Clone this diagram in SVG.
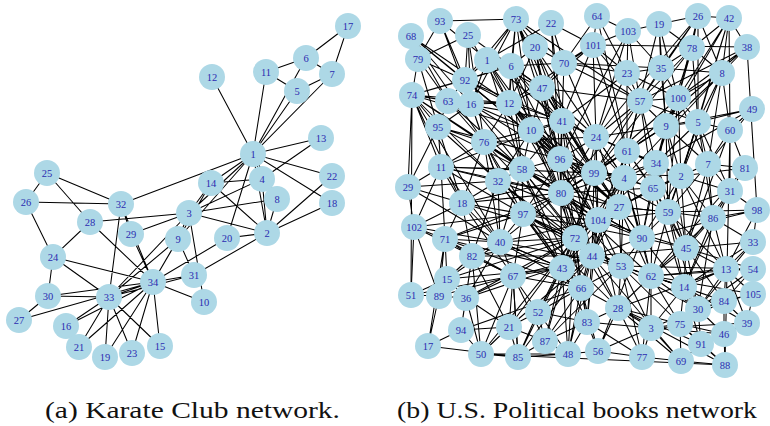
<svg xmlns="http://www.w3.org/2000/svg" width="770" height="426" viewBox="0 0 770 426">
<style>
.e path{fill:none;stroke:#000;stroke-width:1.05}
.n circle{fill:#add8e6}
.n text{font-family:"Liberation Serif",serif;font-size:10.5px;fill:#2b2bb0;text-anchor:middle}
.cap{font-family:"Liberation Serif",serif;font-size:23px;fill:#111}
</style>
<rect width="770" height="426" fill="#fff"/>
<g id="karate-edges" class="e">
<path d="M253 154L267 233M253 154L189 213M253 154L262 179M253 154L297 91M253 154L306 58M253 154L332 74M253 154L277 199M253 154L178 239M253 154L266 72M253 154L212 77M253 154L321 138M253 154L211 183M253 154L332 203M253 154L227 238M253 154L332 176M253 154L121 204M267 233L189 213M267 233L262 179M267 233L277 199M267 233L211 183M267 233L332 203M267 233L227 238M267 233L332 176M267 233L194 275M189 213L262 179M189 213L277 199M189 213L178 239M189 213L204 302M189 213L211 183M189 213L90 222M189 213L131 234M189 213L109 297M262 179L277 199M262 179L321 138M262 179L211 183M297 91L332 74M297 91L266 72M306 58L332 74M306 58L266 72M306 58L348 26M332 74L348 26M178 239L194 275M178 239L109 297M178 239L153 282M204 302L153 282M211 183L153 282M160 346L109 297M160 346L153 282M66 326L109 297M66 326L153 282M105 357L109 297M105 357L153 282M227 238L153 282M79 347L109 297M79 347L153 282M132 353L109 297M132 353L153 282M53 257L26 202M53 257L90 222M53 257L48 296M53 257L109 297M53 257L153 282M47 173L26 202M47 173L90 222M47 173L121 204M26 202L121 204M19 320L48 296M19 320L153 282M90 222L153 282M131 234L121 204M131 234L153 282M48 296L109 297M48 296L153 282M194 275L109 297M194 275L153 282M121 204L109 297M121 204L153 282M109 297L153 282"/>
</g>
<g id="books-edges" class="e">
<path d="M412 95L448 101M412 95L471 104M412 95L484 142M412 95L509 103M412 95L531 130M412 95L498 181M412 95L438 127M412 95L441 167M412 95L408 187M412 95L411 295M412 95L462 203M412 95L522 169M412 95L465 80M412 95L511 66M412 95L561 193"/>
<path d="M516 19L440 21M516 19L487 60M516 19L511 66M516 19L509 103M516 19L542 88M516 19L562 121M516 19L531 130M516 19L535 47M516 19L564 63M516 19L560 159M516 19L640 101M516 19L465 80M516 19L471 104M516 19L596 137M516 19L624 178"/>
<path d="M411 36L465 80M411 36L471 104M411 36L509 103M411 36L448 101M411 36L484 142M411 36L418 59M411 36L560 159M418 59L412 95M418 59L468 35M418 59L465 80M418 59L448 101M418 59L438 127M440 21L465 80M440 21L418 59M440 21L471 104M440 21L562 121M468 35L465 80M468 35L484 142M468 35L509 103M468 35L471 104M468 35L542 88"/>
<path d="M551 23L487 60M551 23L564 63M551 23L593 45M551 23L562 121M551 23L560 159M597 16L593 45M597 16L628 31M597 16L564 63M597 16L627 73M597 16L627 151M628 31L659 24M628 31L593 45M628 31L627 73M628 31L640 101M628 31L661 68M628 31L596 137M628 31L560 159M659 24L698 16M659 24L692 48M659 24L661 68M659 24L678 98M659 24L666 126M659 24L627 151"/>
<path d="M698 16L729 18M698 16L692 48M698 16L661 68M698 16L722 73M698 16L640 101M698 16L678 98M698 16L698 122M698 16L596 137M729 18L692 48M729 18L722 73M729 18L747 47M729 18L678 98M729 18L698 122M729 18L666 126M729 18L730 130M729 18L681 176M747 47L722 73M747 47L593 45M747 47L757 210M747 47L678 98M747 47L640 101M747 47L627 151"/>
<path d="M593 45L564 63M593 45L627 73M593 45L640 101M593 45L596 137M593 45L562 121M593 45L542 88M593 45L509 103M593 45L627 151M535 47L511 66M535 47L564 63M535 47L509 103M535 47L542 88M535 47L562 121M535 47L560 159M487 60L511 66M487 60L465 80M487 60L509 103M487 60L471 104M487 60L542 88M487 60L531 130M511 66L509 103M511 66L542 88M511 66L562 121M511 66L531 130M511 66L564 63M511 66L560 159M511 66L522 169"/>
<path d="M564 63L542 88M564 63L562 121M564 63L627 73M564 63L640 101M564 63L596 137M564 63L661 68M627 73L661 68M627 73L640 101M627 73L596 137M627 73L627 151M627 73L562 121M627 73L678 98M661 68L692 48M661 68L678 98M661 68L640 101M661 68L666 126M661 68L722 73M692 48L722 73M692 48L678 98M692 48L698 122M692 48L666 126M692 48L640 101M692 48L594 173M722 73L678 98M722 73L698 122M722 73L730 130M722 73L666 126M722 73L708 164M722 73L681 176M722 73L624 178"/>
<path d="M752 109L730 130M752 109L698 122M752 109L708 164M752 109L666 126M752 109L656 163M730 130L698 122M730 130L745 168M730 130L708 164M730 130L725 365M730 130L730 191M730 130L686 248M745 168L730 191M745 168L708 164M745 168L713 218M745 168L681 176M745 168L651 276M730 191L713 218M730 191L681 176M730 191L708 164M730 191L668 212M730 191L686 248M730 191L757 210M730 191L684 287"/>
<path d="M757 210L713 218M757 210L753 242M757 210L726 269M757 210L668 212M757 210L642 238M753 242L713 218M753 242L726 269M753 242L686 248M753 242L684 287M753 242L698 309M753 269L726 269M753 269L724 301M753 269L686 248M753 269L651 276M753 269L698 309M753 269L621 266M753 294L724 301M753 294L726 269M753 294L747 323M753 294L698 309M753 294L651 276M747 323L724 301M747 323L724 334M747 323L726 269M747 323L684 287M747 323L651 328"/>
<path d="M724 301L726 269M724 301L698 309M724 301L724 334M724 301L684 287M724 301L651 276M724 301L680 324M724 334L698 309M724 334L701 344M724 334L680 324M724 334L725 365M724 334L651 328M725 365L701 344M725 365L681 361M725 365L680 324M725 365L618 308M701 344L698 309M701 344L680 324M701 344L681 361M701 344L684 287M701 344L618 308M681 361L680 324M681 361L642 357M681 361L651 328M681 361L618 308M681 361L592 256"/>
<path d="M642 357L651 328M642 357L598 351M642 357L618 308M642 357L587 322M642 357L621 266M642 357L651 276M598 351L587 322M598 351L568 354M598 351L618 308M598 351L651 328M598 351L581 288M598 351L642 238M568 354L587 322M568 354L545 341M568 354L518 357M568 354L481 354M568 354L538 312M568 354L562 268M568 354L592 256M568 354L581 288"/>
<path d="M518 357L545 341M518 357L509 327M518 357L481 354M518 357L538 312M518 357L513 276M518 357L562 268M545 341L538 312M545 341L509 327M545 341L562 268M545 341L587 322M545 341L581 288M545 341L621 266M481 354L461 330M481 354L509 327M481 354L466 298M481 354L513 276M481 354L575 238M481 354L472 256M481 354L725 365"/>
<path d="M428 346L439 296M428 346L461 330M428 346L445 239M428 346L518 357M411 295L414 227M411 295L439 296M411 295L447 279M411 295L513 276M461 330L466 298M461 330L509 327M461 330L472 256M461 330L581 288M439 296L447 279M439 296L466 298M439 296L445 239M439 296L414 227M439 296L513 276M447 279L466 298M447 279L445 239M447 279L472 256M447 279L500 242M447 279L575 238M466 298L472 256M466 298L513 276M466 298L509 327M466 298L500 242M466 298L592 256"/>
<path d="M414 227L445 239M414 227L408 187M414 227L462 203M414 227L441 167M414 227L513 276M414 227L500 242M408 187L441 167M408 187L438 127M408 187L462 203M408 187L500 242M445 239L472 256M445 239L462 203M445 239L500 242M445 239L441 167M445 239L523 214M445 239L581 288M441 167L438 127M441 167L484 142M441 167L498 181M441 167L462 203M441 167L522 169M441 167L594 173M441 167L562 121"/>
<path d="M438 127L448 101M438 127L484 142M438 127L471 104M438 127L462 203M438 127L560 159M448 101L471 104M448 101L465 80M448 101L484 142M448 101L509 103M448 101L562 121M465 80L471 104M465 80L509 103M465 80L511 66M465 80L596 137M471 104L509 103M471 104L484 142M471 104L531 130M471 104L498 181M471 104L561 193M462 203L498 181M462 203L500 242M462 203L472 256M462 203L523 214M462 203L484 142M462 203L561 193"/>
<path d="M509 103L542 88M509 103L562 121M509 103L531 130M509 103L484 142M509 103L522 169M509 103L560 159M509 103L594 173M542 88L562 121M542 88L531 130M542 88L596 137M542 88L640 101M542 88L560 159M542 88L624 178M562 121L531 130M562 121L560 159M562 121L596 137M562 121L627 151M562 121L594 173M562 121L522 169M562 121L561 193M562 121L619 207M531 130L484 142M531 130L560 159M531 130L522 169M531 130L498 181M531 130L561 193M531 130L594 173M531 130L598 220"/>
<path d="M484 142L522 169M484 142L498 181M484 142L523 214M484 142L500 242M484 142L596 137M560 159L522 169M560 159L561 193M560 159L594 173M560 159L596 137M560 159L624 178M560 159L523 214M560 159L575 238M560 159L653 188M522 169L498 181M522 169L561 193M522 169L523 214M522 169L500 242M522 169L575 238M498 181L523 214M498 181L500 242M498 181L561 193M498 181L472 256M498 181L562 268"/>
<path d="M596 137L627 151M596 137L594 173M596 137L624 178M596 137L640 101M596 137L666 126M596 137L656 163M596 137L681 176M640 101L678 98M640 101L666 126M640 101L627 151M640 101L656 163M640 101L698 122M640 101L653 188M678 98L666 126M678 98L698 122M678 98L708 164M678 98L681 176M678 98L656 163M678 98L668 212M666 126L698 122M666 126L656 163M666 126L627 151M666 126L681 176M666 126L708 164M666 126L653 188M666 126L686 248"/>
<path d="M698 122L708 164M698 122L681 176M698 122L656 163M698 122L713 218M698 122L730 191M708 164L681 176M708 164L713 218M708 164L668 212M708 164L653 188M708 164L686 248M681 176L656 163M681 176L653 188M681 176L668 212M681 176L713 218M681 176L686 248M681 176L726 269M656 163L627 151M656 163L624 178M656 163L653 188M656 163L668 212M656 163L642 238"/>
<path d="M627 151L624 178M627 151L594 173M627 151L653 188M627 151L619 207M627 151L668 212M594 173L624 178M594 173L561 193M594 173L619 207M594 173L598 220M594 173L668 212M624 178L619 207M624 178L653 188M624 178L598 220M624 178L642 238M624 178L651 276M653 188L668 212M653 188L619 207M653 188L642 238M653 188L686 248M653 188L684 287"/>
<path d="M561 193L523 214M561 193L598 220M561 193L575 238M561 193L619 207M561 193L500 242M561 193L642 238M523 214L500 242M523 214L575 238M523 214L513 276M523 214L562 268M523 214L621 266M500 242L472 256M500 242L513 276M500 242L562 268M500 242L575 238M500 242L581 288M619 207L598 220M619 207L642 238M619 207L668 212M619 207L592 256M619 207L651 276M598 220L575 238M598 220L592 256M598 220L642 238M598 220L621 266M598 220L618 308"/>
<path d="M668 212L642 238M668 212L686 248M668 212L713 218M668 212L651 276M668 212L684 287M713 218L686 248M713 218L726 269M713 218L684 287M642 238L686 248M642 238L621 266M642 238L651 276M642 238L592 256M642 238L698 309M686 248L651 276M686 248L684 287M686 248L726 269M686 248L724 301"/>
<path d="M575 238L592 256M575 238L562 268M575 238L581 288M575 238L621 266M575 238L618 308M592 256L621 266M592 256L562 268M592 256L581 288M592 256L651 276M592 256L587 322M621 266L651 276M621 266L581 288M621 266L618 308M621 266L651 328M621 266L680 324M651 276L684 287M651 276L618 308M651 276L651 328M651 276L680 324M651 276L698 309"/>
<path d="M562 268L581 288M562 268L513 276M562 268L538 312M562 268L587 322M513 276L472 256M513 276L538 312M513 276L509 327M513 276L545 341M513 276L518 357M472 256L509 327M581 288L618 308M581 288L587 322M581 288L538 312M618 308L587 322M618 308L651 328M618 308L680 324M684 287L698 309M684 287L680 324M684 287L651 328M698 309L680 324M698 309L651 328M726 269L684 287M726 269L698 309M726 269L618 308M651 328L680 324M651 328L587 322M538 312L587 322M538 312L509 327"/>
<path d="M509 103L561 193M509 103L619 207M509 103L598 220M531 130L619 207M531 130L575 238M562 121L598 220M562 121L575 238M562 121L592 256M560 159L598 220M560 159L619 207M560 159L592 256M560 159L562 268M522 169L598 220M522 169L592 256M522 169L562 268M522 169L619 207M484 142L561 193M484 142L575 238M484 142L562 268M498 181L575 238M498 181L592 256M498 181L598 220M523 214L592 256M523 214L598 220M523 214L642 238M561 193L592 256M561 193L562 268M561 193L621 266M561 193L581 288M594 173L575 238M594 173L592 256M594 173L562 268M594 173L642 238M596 137L561 193M596 137L598 220M596 137L619 207M596 137L575 238"/>
<path d="M627 151L561 193M627 151L598 220M627 151L642 238M627 151L592 256M624 178L592 256M624 178L575 238M624 178L621 266M619 207L575 238M619 207L562 268M619 207L621 266M598 220L562 268M598 220L581 288M575 238L513 276M575 238L538 312M592 256L513 276M592 256L538 312M562 268L500 242M500 242L621 266M500 242L598 220M513 276L581 288M522 169L581 288M542 88L561 193M542 88L619 207M542 88L594 173M511 66L561 193M511 66L594 173M535 47L594 173M487 60L560 159M487 60L522 169M465 80L560 159M471 104L522 169M471 104L560 159M448 101L522 169M438 127L522 169"/>
<path d="M441 167L561 193M441 167L523 214M462 203L575 238M462 203L594 173M445 239L561 193M445 239L562 268M472 256L575 238M472 256L592 256M447 279L562 268M466 298L575 238M509 327L575 238M509 327L592 256M545 341L575 238M518 357L592 256M568 354L575 238M587 322L575 238M587 322L598 220M581 288L523 214M618 308L523 214M618 308L561 193M621 266L523 214M651 276L561 193M642 238L561 193M653 188L561 193M653 188L598 220M656 163L598 220M656 163L561 193M666 126L561 193M666 126L594 173M640 101L561 193M640 101L594 173M678 98L594 173M681 176L594 173M681 176L619 207M668 212L598 220M668 212L619 207M686 248L598 220M686 248L592 256M684 287L592 256M698 309L621 266"/>
<path d="M698 122L668 212M666 126L668 212M656 163L686 248M681 176L642 238M653 188L651 276M668 212L726 269M713 218L651 276M686 248L698 309M668 212L698 309M713 218L698 309M726 269L651 276M684 287L621 266M412 95L500 242M408 187L498 181M441 167L500 242M438 127L498 181M414 227L523 214M462 203L513 276M445 239L513 276"/>
</g>
<g id="karate-nodes" class="n">
<g id="k1"><circle cx="253" cy="154" r="13"/><text x="253" y="157.5">1</text></g>
<g id="k2"><circle cx="267" cy="233" r="13"/><text x="267" y="236.5">2</text></g>
<g id="k3"><circle cx="189" cy="213" r="13"/><text x="189" y="216.5">3</text></g>
<g id="k4"><circle cx="262" cy="179" r="13"/><text x="262" y="182.5">4</text></g>
<g id="k5"><circle cx="297" cy="91" r="13"/><text x="297" y="94.5">5</text></g>
<g id="k6"><circle cx="306" cy="58" r="13"/><text x="306" y="61.5">6</text></g>
<g id="k7"><circle cx="332" cy="74" r="13"/><text x="332" y="77.5">7</text></g>
<g id="k8"><circle cx="277" cy="199" r="13"/><text x="277" y="202.5">8</text></g>
<g id="k9"><circle cx="178" cy="239" r="13"/><text x="178" y="242.5">9</text></g>
<g id="k10"><circle cx="204" cy="302" r="13"/><text x="204" y="305.5">10</text></g>
<g id="k11"><circle cx="266" cy="72" r="13"/><text x="266" y="75.5">11</text></g>
<g id="k12"><circle cx="212" cy="77" r="13"/><text x="212" y="80.5">12</text></g>
<g id="k13"><circle cx="321" cy="138" r="13"/><text x="321" y="141.5">13</text></g>
<g id="k14"><circle cx="211" cy="183" r="13"/><text x="211" y="186.5">14</text></g>
<g id="k15"><circle cx="160" cy="346" r="13"/><text x="160" y="349.5">15</text></g>
<g id="k16"><circle cx="66" cy="326" r="13"/><text x="66" y="329.5">16</text></g>
<g id="k17"><circle cx="348" cy="26" r="13"/><text x="348" y="29.5">17</text></g>
<g id="k18"><circle cx="332" cy="203" r="13"/><text x="332" y="206.5">18</text></g>
<g id="k19"><circle cx="105" cy="357" r="13"/><text x="105" y="360.5">19</text></g>
<g id="k20"><circle cx="227" cy="238" r="13"/><text x="227" y="241.5">20</text></g>
<g id="k21"><circle cx="79" cy="347" r="13"/><text x="79" y="350.5">21</text></g>
<g id="k22"><circle cx="332" cy="176" r="13"/><text x="332" y="179.5">22</text></g>
<g id="k23"><circle cx="132" cy="353" r="13"/><text x="132" y="356.5">23</text></g>
<g id="k24"><circle cx="53" cy="257" r="13"/><text x="53" y="260.5">24</text></g>
<g id="k25"><circle cx="47" cy="173" r="13"/><text x="47" y="176.5">25</text></g>
<g id="k26"><circle cx="26" cy="202" r="13"/><text x="26" y="205.5">26</text></g>
<g id="k27"><circle cx="19" cy="320" r="13"/><text x="19" y="323.5">27</text></g>
<g id="k28"><circle cx="90" cy="222" r="13"/><text x="90" y="225.5">28</text></g>
<g id="k29"><circle cx="131" cy="234" r="13"/><text x="131" y="237.5">29</text></g>
<g id="k30"><circle cx="48" cy="296" r="13"/><text x="48" y="299.5">30</text></g>
<g id="k31"><circle cx="194" cy="275" r="13"/><text x="194" y="278.5">31</text></g>
<g id="k32"><circle cx="121" cy="204" r="13"/><text x="121" y="207.5">32</text></g>
<g id="k33"><circle cx="109" cy="297" r="13"/><text x="109" y="300.5">33</text></g>
<g id="k34"><circle cx="153" cy="282" r="13"/><text x="153" y="285.5">34</text></g>
</g>
<g id="books-nodes" class="n">
<g id="p1"><circle cx="487" cy="60" r="13"/><text x="487" y="63.5">1</text></g>
<g id="p2"><circle cx="681" cy="176" r="13"/><text x="681" y="179.5">2</text></g>
<g id="p3"><circle cx="651" cy="328" r="13"/><text x="651" y="331.5">3</text></g>
<g id="p4"><circle cx="624" cy="178" r="13"/><text x="624" y="181.5">4</text></g>
<g id="p5"><circle cx="698" cy="122" r="13"/><text x="698" y="125.5">5</text></g>
<g id="p6"><circle cx="511" cy="66" r="13"/><text x="511" y="69.5">6</text></g>
<g id="p7"><circle cx="708" cy="164" r="13"/><text x="708" y="167.5">7</text></g>
<g id="p8"><circle cx="722" cy="73" r="13"/><text x="722" y="76.5">8</text></g>
<g id="p9"><circle cx="666" cy="126" r="13"/><text x="666" y="129.5">9</text></g>
<g id="p10"><circle cx="531" cy="130" r="13"/><text x="531" y="133.5">10</text></g>
<g id="p11"><circle cx="441" cy="167" r="13"/><text x="441" y="170.5">11</text></g>
<g id="p12"><circle cx="509" cy="103" r="13"/><text x="509" y="106.5">12</text></g>
<g id="p13"><circle cx="726" cy="269" r="13"/><text x="726" y="272.5">13</text></g>
<g id="p14"><circle cx="684" cy="287" r="13"/><text x="684" y="290.5">14</text></g>
<g id="p15"><circle cx="447" cy="279" r="13"/><text x="447" y="282.5">15</text></g>
<g id="p16"><circle cx="471" cy="104" r="13"/><text x="471" y="107.5">16</text></g>
<g id="p17"><circle cx="428" cy="346" r="13"/><text x="428" y="349.5">17</text></g>
<g id="p18"><circle cx="462" cy="203" r="13"/><text x="462" y="206.5">18</text></g>
<g id="p19"><circle cx="659" cy="24" r="13"/><text x="659" y="27.5">19</text></g>
<g id="p20"><circle cx="535" cy="47" r="13"/><text x="535" y="50.5">20</text></g>
<g id="p21"><circle cx="509" cy="327" r="13"/><text x="509" y="330.5">21</text></g>
<g id="p22"><circle cx="551" cy="23" r="13"/><text x="551" y="26.5">22</text></g>
<g id="p23"><circle cx="627" cy="73" r="13"/><text x="627" y="76.5">23</text></g>
<g id="p24"><circle cx="596" cy="137" r="13"/><text x="596" y="140.5">24</text></g>
<g id="p25"><circle cx="468" cy="35" r="13"/><text x="468" y="38.5">25</text></g>
<g id="p26"><circle cx="698" cy="16" r="13"/><text x="698" y="19.5">26</text></g>
<g id="p27"><circle cx="619" cy="207" r="13"/><text x="619" y="210.5">27</text></g>
<g id="p28"><circle cx="618" cy="308" r="13"/><text x="618" y="311.5">28</text></g>
<g id="p29"><circle cx="408" cy="187" r="13"/><text x="408" y="190.5">29</text></g>
<g id="p30"><circle cx="698" cy="309" r="13"/><text x="698" y="312.5">30</text></g>
<g id="p31"><circle cx="730" cy="191" r="13"/><text x="730" y="194.5">31</text></g>
<g id="p32"><circle cx="498" cy="181" r="13"/><text x="498" y="184.5">32</text></g>
<g id="p33"><circle cx="753" cy="242" r="13"/><text x="753" y="245.5">33</text></g>
<g id="p34"><circle cx="656" cy="163" r="13"/><text x="656" y="166.5">34</text></g>
<g id="p35"><circle cx="661" cy="68" r="13"/><text x="661" y="71.5">35</text></g>
<g id="p36"><circle cx="466" cy="298" r="13"/><text x="466" y="301.5">36</text></g>
<g id="p38"><circle cx="747" cy="47" r="13"/><text x="747" y="50.5">38</text></g>
<g id="p39"><circle cx="747" cy="323" r="13"/><text x="747" y="326.5">39</text></g>
<g id="p40"><circle cx="500" cy="242" r="13"/><text x="500" y="245.5">40</text></g>
<g id="p41"><circle cx="562" cy="121" r="13"/><text x="562" y="124.5">41</text></g>
<g id="p42"><circle cx="729" cy="18" r="13"/><text x="729" y="21.5">42</text></g>
<g id="p43"><circle cx="562" cy="268" r="13"/><text x="562" y="271.5">43</text></g>
<g id="p44"><circle cx="592" cy="256" r="13"/><text x="592" y="259.5">44</text></g>
<g id="p45"><circle cx="686" cy="248" r="13"/><text x="686" y="251.5">45</text></g>
<g id="p46"><circle cx="724" cy="334" r="13"/><text x="724" y="337.5">46</text></g>
<g id="p47"><circle cx="542" cy="88" r="13"/><text x="542" y="91.5">47</text></g>
<g id="p48"><circle cx="568" cy="354" r="13"/><text x="568" y="357.5">48</text></g>
<g id="p49"><circle cx="752" cy="109" r="13"/><text x="752" y="112.5">49</text></g>
<g id="p50"><circle cx="481" cy="354" r="13"/><text x="481" y="357.5">50</text></g>
<g id="p51"><circle cx="411" cy="295" r="13"/><text x="411" y="298.5">51</text></g>
<g id="p52"><circle cx="538" cy="312" r="13"/><text x="538" y="315.5">52</text></g>
<g id="p53"><circle cx="621" cy="266" r="13"/><text x="621" y="269.5">53</text></g>
<g id="p54"><circle cx="753" cy="269" r="13"/><text x="753" y="272.5">54</text></g>
<g id="p56"><circle cx="598" cy="351" r="13"/><text x="598" y="354.5">56</text></g>
<g id="p57"><circle cx="640" cy="101" r="13"/><text x="640" y="104.5">57</text></g>
<g id="p58"><circle cx="522" cy="169" r="13"/><text x="522" y="172.5">58</text></g>
<g id="p59"><circle cx="668" cy="212" r="13"/><text x="668" y="215.5">59</text></g>
<g id="p60"><circle cx="730" cy="130" r="13"/><text x="730" y="133.5">60</text></g>
<g id="p61"><circle cx="627" cy="151" r="13"/><text x="627" y="154.5">61</text></g>
<g id="p62"><circle cx="651" cy="276" r="13"/><text x="651" y="279.5">62</text></g>
<g id="p63"><circle cx="448" cy="101" r="13"/><text x="448" y="104.5">63</text></g>
<g id="p64"><circle cx="597" cy="16" r="13"/><text x="597" y="19.5">64</text></g>
<g id="p65"><circle cx="653" cy="188" r="13"/><text x="653" y="191.5">65</text></g>
<g id="p66"><circle cx="581" cy="288" r="13"/><text x="581" y="291.5">66</text></g>
<g id="p67"><circle cx="513" cy="276" r="13"/><text x="513" y="279.5">67</text></g>
<g id="p68"><circle cx="411" cy="36" r="13"/><text x="411" y="39.5">68</text></g>
<g id="p69"><circle cx="681" cy="361" r="13"/><text x="681" y="364.5">69</text></g>
<g id="p70"><circle cx="564" cy="63" r="13"/><text x="564" y="66.5">70</text></g>
<g id="p71"><circle cx="445" cy="239" r="13"/><text x="445" y="242.5">71</text></g>
<g id="p72"><circle cx="575" cy="238" r="13"/><text x="575" y="241.5">72</text></g>
<g id="p73"><circle cx="516" cy="19" r="13"/><text x="516" y="22.5">73</text></g>
<g id="p74"><circle cx="412" cy="95" r="13"/><text x="412" y="98.5">74</text></g>
<g id="p75"><circle cx="680" cy="324" r="13"/><text x="680" y="327.5">75</text></g>
<g id="p76"><circle cx="484" cy="142" r="13"/><text x="484" y="145.5">76</text></g>
<g id="p77"><circle cx="642" cy="357" r="13"/><text x="642" y="360.5">77</text></g>
<g id="p78"><circle cx="692" cy="48" r="13"/><text x="692" y="51.5">78</text></g>
<g id="p79"><circle cx="418" cy="59" r="13"/><text x="418" y="62.5">79</text></g>
<g id="p80"><circle cx="561" cy="193" r="13"/><text x="561" y="196.5">80</text></g>
<g id="p81"><circle cx="745" cy="168" r="13"/><text x="745" y="171.5">81</text></g>
<g id="p82"><circle cx="472" cy="256" r="13"/><text x="472" y="259.5">82</text></g>
<g id="p83"><circle cx="587" cy="322" r="13"/><text x="587" y="325.5">83</text></g>
<g id="p84"><circle cx="724" cy="301" r="13"/><text x="724" y="304.5">84</text></g>
<g id="p85"><circle cx="518" cy="357" r="13"/><text x="518" y="360.5">85</text></g>
<g id="p86"><circle cx="713" cy="218" r="13"/><text x="713" y="221.5">86</text></g>
<g id="p87"><circle cx="545" cy="341" r="13"/><text x="545" y="344.5">87</text></g>
<g id="p88"><circle cx="725" cy="365" r="13"/><text x="725" y="368.5">88</text></g>
<g id="p89"><circle cx="439" cy="296" r="13"/><text x="439" y="299.5">89</text></g>
<g id="p90"><circle cx="642" cy="238" r="13"/><text x="642" y="241.5">90</text></g>
<g id="p91"><circle cx="701" cy="344" r="13"/><text x="701" y="347.5">91</text></g>
<g id="p92"><circle cx="465" cy="80" r="13"/><text x="465" y="83.5">92</text></g>
<g id="p93"><circle cx="440" cy="21" r="13"/><text x="440" y="24.5">93</text></g>
<g id="p94"><circle cx="461" cy="330" r="13"/><text x="461" y="333.5">94</text></g>
<g id="p95"><circle cx="438" cy="127" r="13"/><text x="438" y="130.5">95</text></g>
<g id="p96"><circle cx="560" cy="159" r="13"/><text x="560" y="162.5">96</text></g>
<g id="p97"><circle cx="523" cy="214" r="13"/><text x="523" y="217.5">97</text></g>
<g id="p98"><circle cx="757" cy="210" r="13"/><text x="757" y="213.5">98</text></g>
<g id="p99"><circle cx="594" cy="173" r="13"/><text x="594" y="176.5">99</text></g>
<g id="p100"><circle cx="678" cy="98" r="13"/><text x="678" y="101.5">100</text></g>
<g id="p101"><circle cx="593" cy="45" r="13"/><text x="593" y="48.5">101</text></g>
<g id="p102"><circle cx="414" cy="227" r="13"/><text x="414" y="230.5">102</text></g>
<g id="p103"><circle cx="628" cy="31" r="13"/><text x="628" y="34.5">103</text></g>
<g id="p104"><circle cx="598" cy="220" r="13"/><text x="598" y="223.5">104</text></g>
<g id="p105"><circle cx="753" cy="294" r="13"/><text x="753" y="297.5">105</text></g>
</g>
<text class="cap" x="45" y="418" textLength="295" lengthAdjust="spacingAndGlyphs">(a) Karate Club network.</text>
<text class="cap" x="397" y="418" textLength="360" lengthAdjust="spacingAndGlyphs">(b) U.S. Political books network</text>
</svg>
